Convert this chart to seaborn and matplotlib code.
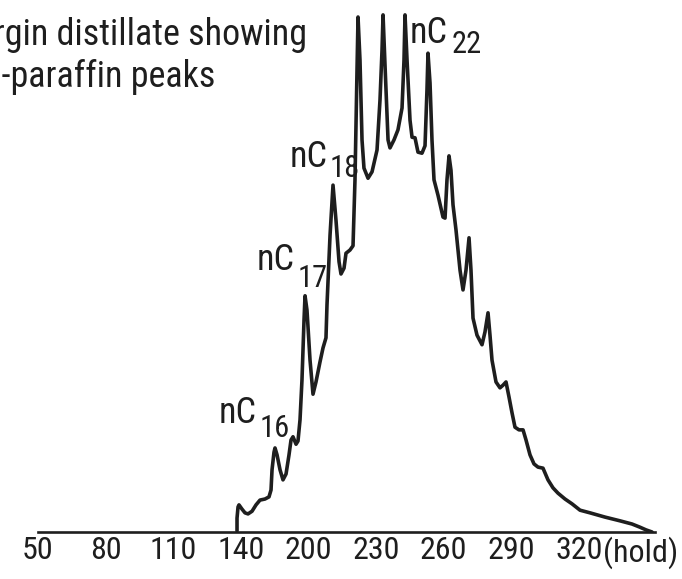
import matplotlib
matplotlib.use("Agg")
import matplotlib.pyplot as plt
import seaborn as sns
import pandas as pd
from matplotlib import font_manager

# ---------------- data ----------------
temp_labels = ["50", "80", "110", "140", "200", "230", "260", "290", "320"]
tick_pos = list(range(len(temp_labels)))

retention = [2.944, 2.944, 2.959, 2.973, 3.018, 3.062, 3.107, 3.166, 3.225, 3.284,
             3.358, 3.417, 3.447, 3.462, 3.491, 3.506, 3.536, 3.580, 3.624, 3.669,
             3.713, 3.743, 3.772, 3.817, 3.846, 3.876, 3.905, 3.935, 3.950, 3.979,
             4.024, 4.068, 4.112, 4.172, 4.216, 4.260, 4.275, 4.320, 4.364, 4.408,
             4.453, 4.482, 4.527, 4.556, 4.615, 4.660, 4.689, 4.719, 4.734, 4.763,
             4.793, 4.822, 4.882, 4.941, 5.015, 5.059, 5.089, 5.104, 5.133, 5.178,
             5.207, 5.266, 5.325, 5.385, 5.414, 5.429, 5.459, 5.503, 5.533, 5.577,
             5.621, 5.680, 5.725, 5.754, 5.769, 5.799, 5.828, 5.858, 5.917, 5.991,
             6.021, 6.050, 6.080, 6.109, 6.139, 6.183, 6.243, 6.287, 6.331, 6.376,
             6.405, 6.435, 6.494, 6.568, 6.612, 6.657, 6.686, 6.716, 6.775, 6.834,
             6.879, 6.923, 6.967, 7.012, 7.056, 7.115, 7.175, 7.219, 7.278, 7.337,
             7.396, 7.470, 7.544, 7.618, 7.692, 7.796, 7.899, 8.018, 8.166, 8.388,
             8.609, 8.787, 8.905, 8.994, 9.083]

signal = [0.2, 2.6, 4.7, 5.1, 4.3, 3.6, 3.4, 3.9, 5.1, 6.0,
          6.2, 6.6, 7.9, 11.7, 15.0, 15.8, 14.5, 11.7, 9.8, 10.9,
          14.5, 17.3, 17.9, 16.5, 17.1, 21.1, 28.6, 39.8, 44.4, 41.7,
          32.3, 25.9, 28.2, 32.0, 34.6, 36.5, 42.7, 55.8, 65.2, 58.6,
          50.8, 48.5, 49.6, 52.4, 53.0, 53.8, 66.2, 86.8, 96.8, 88.7,
          73.7, 68.4, 66.5, 67.7, 71.8, 81.2, 90.6, 97.2, 87.8, 73.7,
          72.2, 73.7, 75.6, 79.7, 88.7, 97.2, 88.7, 77.4, 74.2, 74.1,
          71.4, 71.2, 72.6, 83.1, 90.0, 84.4, 73.7, 66.2, 63.3, 59.2,
          59.0, 66.2, 70.7, 68.0, 61.5, 56.8, 49.2, 45.5, 49.2, 55.3,
          49.2, 40.2, 37.0, 35.2, 37.6, 41.2, 37.0, 32.3, 28.2, 27.1,
          27.6, 28.2, 25.4, 22.4, 19.7, 19.2, 19.2, 17.3, 14.5, 12.8,
          12.2, 12.0, 9.8, 8.3, 7.3, 6.2, 5.3, 4.1, 3.6, 2.8,
          2.1, 1.5, 0.9, 0.4, 0.0]

peak_subscripts = ["16", "17", "18", "22"]
peak_label_x = [3.240, 3.802, 4.290, 6.065]      # right edge of "nC"
peak_label_y = [20.5, 49.2, 68.6, 91.9]
peak_sub_x = [3.284, 3.846, 4.320, 6.124]
peak_sub_y = [17.9, 46.1, 66.7, 90.0]

title_lines = ["virgin distillate showing", "n-paraffin peaks"]
title_x = [3.979, 2.618]     # right ends
title_y = [91.5, 83.6]       # baselines

hold_label = "(hold)"
hold_x = 8.36                # left edge, in tick-position units

# ---------------- style ----------------
sns.set_style("white")
available = {f.name for f in font_manager.fontManager.ttflist}
narrow = [f for f in ["Roboto Condensed", "Liberation Sans Narrow", "Open Sans Condensed"]
          if f in available]
if narrow:
    fams = narrow[:1] + ["DejaVu Sans"]
    sz_title, sz_tick, sz_nc, sz_sub = 26, 23, 26, 22
else:
    fams = [f for f in ["Liberation Sans", "DejaVu Sans"] if f in available]
    sz_title, sz_tick, sz_nc, sz_sub = 23, 20.5, 20, 16.5
plt.rcParams["font.family"] = fams

ink = "#1e1e1e"
fig = plt.figure(figsize=(6.82, 5.79), dpi=100)
ax = fig.add_axes([38 / 682, 47 / 579, 617 / 682, 532 / 579])

df = pd.DataFrame({"retention": retention, "signal": signal})
sns.lineplot(data=df, x="retention", y="signal", sort=False, estimator=None,
             color=ink, linewidth=2.6, ax=ax)
for ln in ax.get_lines():
    ln.set_solid_joinstyle("round")
    ln.set_solid_capstyle("round")

ax.set_xlim(0, 9.127)
ax.set_ylim(0, 100)
for s in ["left", "top", "right"]:
    ax.spines[s].set_visible(False)
ax.spines["bottom"].set_color(ink)
ax.spines["bottom"].set_linewidth(1.9)
ax.set_yticks([])
ax.set_xticks(tick_pos)
ax.set_xticklabels(temp_labels)
tick_pad = 3
ax.tick_params(axis="x", direction="in", length=19.5, width=1.8, color=ink,
               labelsize=sz_tick, labelcolor=ink, pad=tick_pad)
ax.set_xlabel("")
ax.set_ylabel("")

ax.annotate(hold_label, xy=(hold_x, 0), xycoords=("data", "axes fraction"),
            xytext=(0, -tick_pad), textcoords="offset points",
            ha="left", va="top", fontsize=sz_tick, color=ink, annotation_clip=False)

for txt, x, y in zip(title_lines, title_x, title_y):
    ax.text(x, y, txt, ha="right", va="baseline", fontsize=sz_title, color=ink, clip_on=False)

for sub, x, y, sx, sy in zip(peak_subscripts, peak_label_x, peak_label_y, peak_sub_x, peak_sub_y):
    ax.text(x, y, "nC", ha="right", va="baseline", fontsize=sz_nc, color=ink)
    ax.text(sx, sy, sub, ha="left", va="baseline", fontsize=sz_sub, color=ink)

fig.savefig("out.png", dpi=100)
